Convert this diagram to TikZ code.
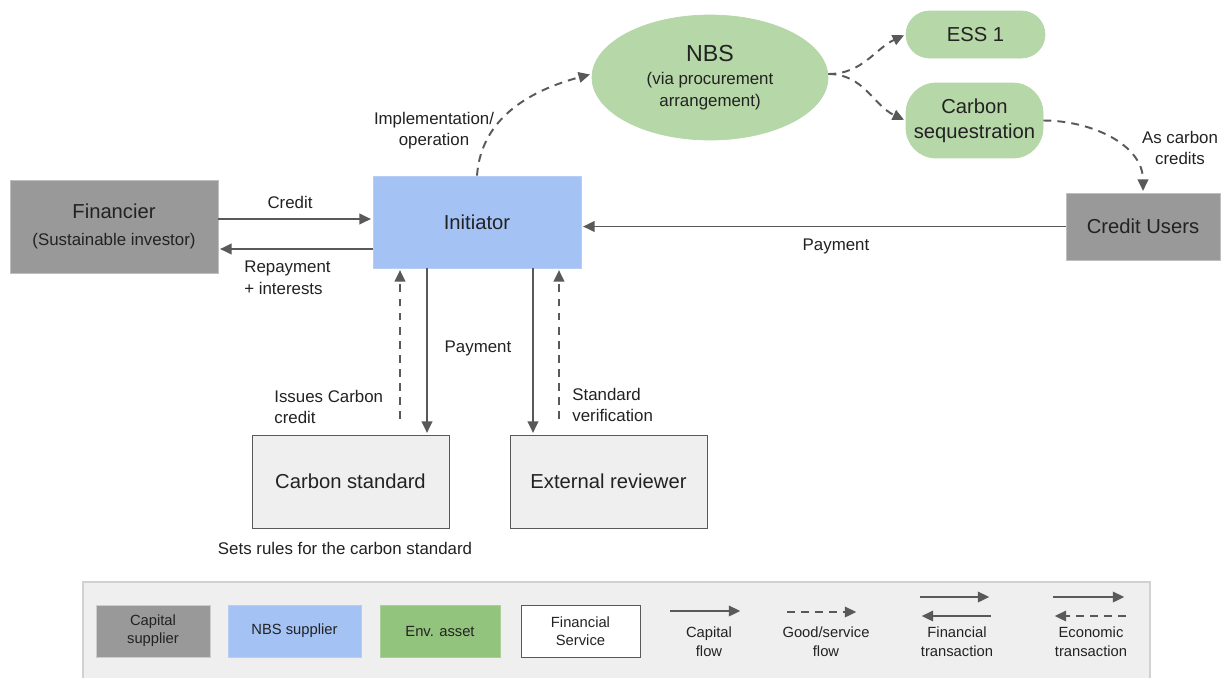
\documentclass[tikz,border=0pt]{standalone}
\usepackage{fontspec}
\setmainfont{Liberation Sans}
\usetikzlibrary{arrows.meta,shapes.geometric}
\definecolor{capgray}{HTML}{999999}
\definecolor{nbsblue}{HTML}{A4C2F4}
\definecolor{envgreen}{HTML}{B6D7A8}
\definecolor{keygreen}{HTML}{93C47D}
\definecolor{lightbg}{HTML}{EFEFEF}
\definecolor{arrowgray}{HTML}{595959}
\definecolor{txt}{HTML}{222222}
\begin{document}
\begin{tikzpicture}[x=0.02cm,y=-0.02cm,>={Triangle[length=6.5pt,width=6pt]},
  flow/.style={->,draw=arrowgray,line width=1.1pt,shorten >=1pt},
  goods/.style={flow,dash pattern=on 4.5pt off 3.5pt},
  box/.style={rectangle,inner sep=0pt,align=center,text=txt,font=\fontsize{11.5}{14}\selectfont},
  lbl/.style={text=txt,inner sep=0pt,font=\fontsize{9.6}{12}\selectfont},
  keybox/.style={rectangle,inner sep=0pt,align=center,text=txt,minimum height=1.04cm,font=\fontsize{8.4}{10.2}\selectfont},
  keylbl/.style={text=txt,inner sep=0pt,align=center,font=\fontsize{8.4}{10.8}\selectfont}]
\useasboundingbox[fill=white] (0,0) rectangle (1227,677);
% actors
\node[box,fill=capgray,draw=black!25,minimum width=4.16cm,minimum height=1.86cm](fin) at (114,226.5)
  {Financier\\[1pt]\fontsize{9.6}{12}\selectfont(Sustainable investor)};
\node[box,fill=nbsblue,draw=nbsblue!80!white,minimum width=4.16cm,minimum height=1.84cm](init) at (477,222){Initiator};
\node[box,fill=capgray,draw=black!25,minimum width=3.08cm,minimum height=1.34cm](users) at (1143,226.5){Credit Users};
\node[box,ellipse,fill=envgreen,draw=envgreen,minimum width=4.72cm,minimum height=2.5cm,font=\fontsize{9.6}{12.5}\selectfont](nbs) at (710,77.5)
  {{\fontsize{13.2}{15}\selectfont NBS}\\[1pt](via procurement\\arrangement)};
\node[box,fill=envgreen,draw=envgreen,rounded corners=0.47cm,minimum width=2.78cm,minimum height=0.94cm](ess) at (975.5,34.5){ESS 1};
\node[box,fill=envgreen,draw=envgreen,rounded corners=0.6cm,minimum width=2.74cm,minimum height=1.5cm](cseq) at (974.5,120.5){Carbon\\sequestration};
\node[box,fill=lightbg,draw=arrowgray,minimum width=3.94cm,minimum height=1.86cm](cstd) at (350.5,481.5){Carbon standard};
\node[box,fill=lightbg,draw=arrowgray,minimum width=3.94cm,minimum height=1.86cm](rev) at (608.5,481.5){External reviewer};
% helper levels
\coordinate (ycr) at (0,219);
\coordinate (yrep) at (0,249);
\coordinate (xa) at (400,0);
\coordinate (xb) at (427,0);
\coordinate (xc) at (533,0);
\coordinate (xd) at (559,0);
% flows
\draw[flow](fin.east |- ycr)--(init.west |- ycr);
\draw[flow](init.west |- yrep)--(fin.east |- yrep);
\draw[flow](users.west)--(init.east |- users.west);
\draw[goods](init.north) to[out=86,in=195] ([yshift=2pt]nbs.west);
\draw[goods]([yshift=2pt]nbs.east) to[out=0,in=205] (ess.west);
\draw[goods]([yshift=2pt]nbs.east) to[out=0,in=155] (cseq.west);
\draw[goods](cseq.east) to[out=0,in=90] (users.north);
\draw[goods,shorten <=9pt](cstd.north -| xa)--(init.south -| xa);
\draw[flow](init.south -| xb)--(cstd.north -| xb);
\draw[flow](init.south -| xc)--(rev.north -| xc);
\draw[goods,shorten <=9pt](rev.north -| xd)--(init.south -| xd);
% labels
\node[lbl](lcred) at (290,202){Credit};
\node[lbl,align=left,anchor=north west](lrep) at (244,261){Repayment\\+ interests};
\node[lbl,align=center](limp) at (434,131){Implementation/\\operation};
\node[lbl](lpay) at (478,348){Payment};
\node[lbl,align=left,anchor=north west](liss) at (274,390){Issues Carbon\\credit};
\node[lbl,align=left,anchor=north west](lver) at (572,388){Standard\\verification};
\node[lbl](lrules) at (345,548){Sets rules for the carbon standard};
\node[lbl](lpay2) at (836,246){Payment};
\node[lbl,align=center](lcc) at (1180,148){As carbon\\credits};
% key
\draw[draw=black!18,fill=lightbg,line width=1pt](83,582) rectangle (1150,690);
\node[keybox,fill=capgray,draw=black!20,minimum width=2.28cm](kcap) at (153,631){Capital\\supplier};
\node[keybox,fill=nbsblue,draw=nbsblue!80!white,minimum width=2.66cm](knbs) at (294.5,631){NBS supplier};
\node[keybox,fill=keygreen,draw=keygreen!80!white,minimum width=2.4cm](kenv) at (440,631){Env. asset};
\node[keybox,fill=white,draw=arrowgray,minimum width=2.38cm](kfin) at (580.5,631){Financial\\Service};
\coordinate (c1) at (670,611); \coordinate (c2) at (742,611);
\coordinate (g1) at (787,612); \coordinate (g2) at (858,612);
\coordinate (f1) at (920,597); \coordinate (f2) at (991,597);
\coordinate (f3) at (991,616); \coordinate (f4) at (920,616);
\coordinate (e1) at (1053,597); \coordinate (e2) at (1126,597);
\coordinate (e3) at (1126,616); \coordinate (e4) at (1053,616);
\draw[flow](c1)--(c2);
\draw[goods](g1)--(g2);
\draw[flow](f1)--(f2);
\draw[flow](f3)--(f4);
\draw[flow](e1)--(e2);
\draw[goods](e3)--(e4);
\node[keylbl](kcf) at (709,642){Capital\\flow};
\node[keylbl](kgs) at (826,642){Good/service\\flow};
\node[keylbl](kft) at (957,642){Financial\\transaction};
\node[keylbl](ket) at (1091,642){Economic\\transaction};
\end{tikzpicture}
\end{document}
